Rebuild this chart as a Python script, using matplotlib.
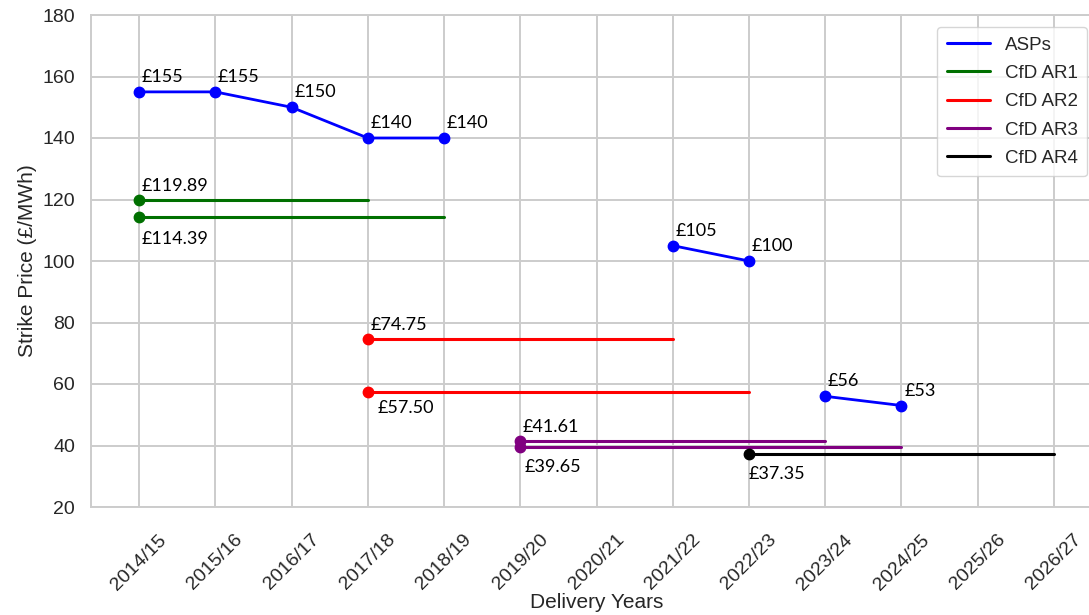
import matplotlib
matplotlib.use("Agg")
import matplotlib.pyplot as plt
from matplotlib.lines import Line2D
import seaborn as sns

years = ["2014/15", "2015/16", "2016/17", "2017/18", "2018/19", "2019/20", "2020/21",
         "2021/22", "2022/23", "2023/24", "2024/25", "2025/26", "2026/27"]

# administered strike prices, three separate runs
asp_run1_years = ["2014/15", "2015/16", "2016/17", "2017/18", "2018/19"]
asp_run1_values = [155, 155, 150, 140, 140]
asp_run2_years = ["2021/22", "2022/23"]
asp_run2_values = [105, 100]
asp_run3_years = ["2023/24", "2024/25"]
asp_run3_values = [56, 53]

# CfD rounds: (price, start year, end year)
ar1 = [(119.89, "2014/15", "2017/18"), (114.39, "2014/15", "2018/19")]
ar2 = [(74.75, "2017/18", "2021/22"), (57.50, "2017/18", "2022/23")]
ar3 = [(41.61, "2019/20", "2023/24"), (39.65, "2019/20", "2024/25")]
ar4 = [(37.35, "2022/23", "2026/27")]

sns.set_style("whitegrid")
plt.rcParams["font.family"] = ["Liberation Sans", "DejaVu Sans"]

fig = plt.figure(figsize=(10.89, 6.15), dpi=100)
ax = fig.add_axes([91 / 1089, 108 / 615, 1011 / 1089, 492 / 615])

pos = {y: i for i, y in enumerate(years)}
lw = 2.0
ms = 7.5
label_font = dict(family=["Lato", "DejaVu Sans"], fontsize=13, color="black")

colors = {"ASPs": "#0000ff", "CfD AR1": "#007000", "CfD AR2": "#ff0000",
          "CfD AR3": "#800080", "CfD AR4": "#000000"}

for run_years, run_values in [(asp_run1_years, asp_run1_values),
                              (asp_run2_years, asp_run2_values),
                              (asp_run3_years, asp_run3_values)]:
    xs = [pos[y] for y in run_years]
    ax.plot(xs, run_values, color=colors["ASPs"], lw=lw, marker="o", ms=ms, zorder=4)
    for xi, v in zip(xs, run_values):
        ax.annotate(f"£{v}", (xi, v), xytext=(2, 5), textcoords="offset points",
                    ha="left", va="bottom", **label_font)


def draw_round(rows, color, below):
    for k, (price, start, end) in enumerate(rows):
        ax.plot([pos[start], pos[end]], [price, price], color=color, lw=2.2, zorder=3)
        ax.plot(pos[start], price, "o", color=color, ms=ms, zorder=4)
        if k in below:
            ax.annotate(f"£{price:.2f}", (pos[start], price), xytext=below[k],
                        textcoords="offset points", ha="left", va="top", **label_font)
        else:
            ax.annotate(f"£{price:.2f}", (pos[start], price), xytext=(2, 4),
                        textcoords="offset points", ha="left", va="bottom", **label_font)


draw_round(ar1, colors["CfD AR1"], {1: (2, -10)})
draw_round(ar2, colors["CfD AR2"], {1: (7, -6)})
draw_round(ar3, colors["CfD AR3"], {1: (3, -9)})
draw_round(ar4, colors["CfD AR4"], {0: (0, -9)})

ax.set_xlim(-0.63, 12.63)
ax.set_ylim(20, 180)
ax.set_yticks(range(20, 181, 20))
ax.set_xticks(range(len(years)))
ax.set_xticklabels(years, rotation=45, ha="center")
ax.tick_params(axis="both", labelsize=14, colors="#262626")
ax.tick_params(axis="y", pad=8)
ax.tick_params(axis="x", pad=14)
ax.grid(color="#cccccc", lw=1.4)
for s in ax.spines.values():
    s.set_color("#cccccc")
    s.set_linewidth(1.4)

ax.set_xlabel("Delivery Years", fontsize=15, color="#262626", labelpad=0)
ax.set_ylabel("Strike Price (£/MWh)", fontsize=15, color="#262626", labelpad=4)

handles = [Line2D([], [], color=c, lw=2.2) for c in colors.values()]
leg = fig.legend(handles, list(colors.keys()), loc="upper right",
                 bbox_to_anchor=(1087 / 1089, 1 - 27 / 615), borderaxespad=0,
                 fontsize=13.5, frameon=True, handlelength=2.3, handletextpad=0.8,
                 borderpad=0.5, labelspacing=0.6, fancybox=True)
leg.get_frame().set_edgecolor("#cccccc")
leg.get_frame().set_facecolor("white")

fig.savefig("out.png", dpi=100)
